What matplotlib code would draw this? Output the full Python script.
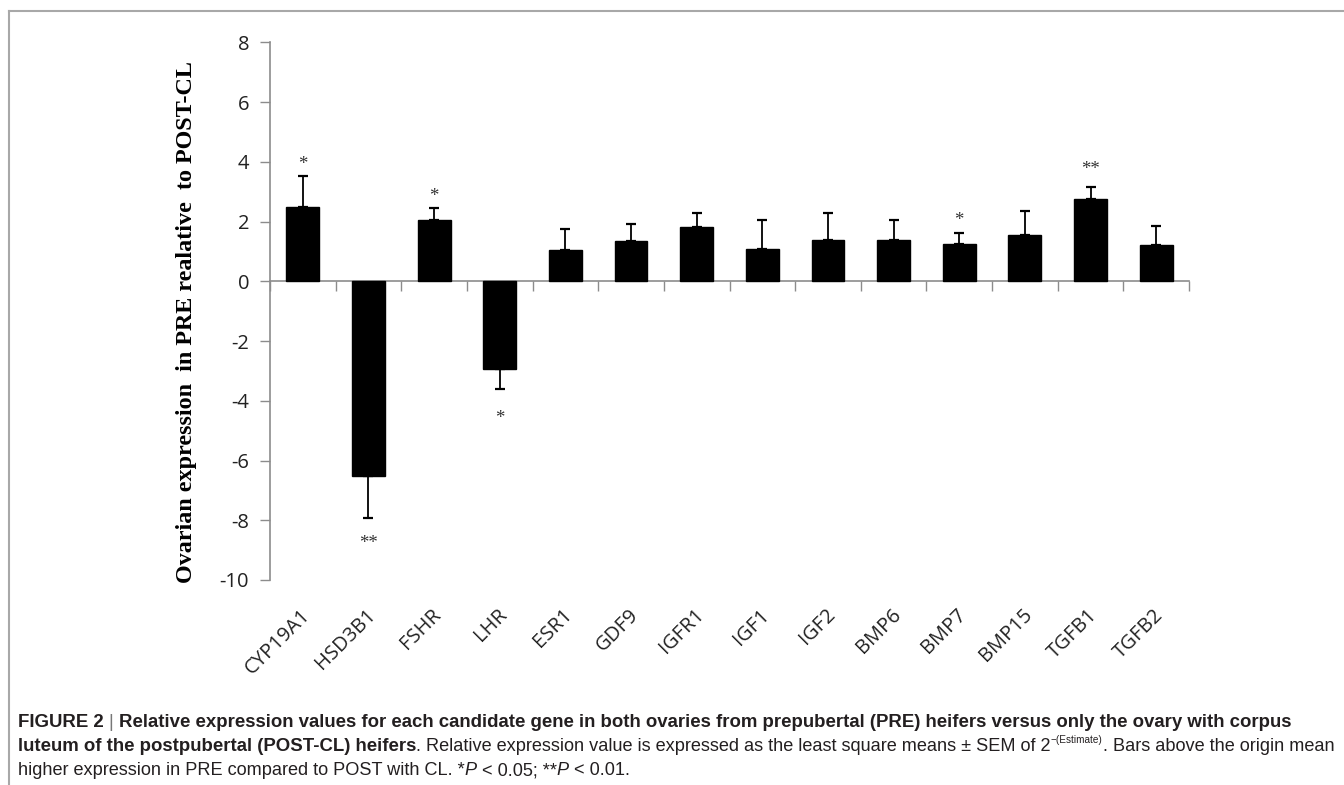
import matplotlib
matplotlib.use("Agg")
import matplotlib.pyplot as plt
import numpy as np
from matplotlib.transforms import IdentityTransform
from matplotlib.lines import Line2D

# ---------------- data ----------------
genes = ["CYP19A1", "HSD3B1", "FSHR", "LHR", "ESR1", "GDF9", "IGFR1",
         "IGF1", "IGF2", "BMP6", "BMP7", "BMP15", "TGFB1", "TGFB2"]
means = [2.48, -6.52, 2.04, -2.93, 1.05, 1.34, 1.81,
         1.08, 1.38, 1.38, 1.26, 1.55, 2.77, 1.23]
sems = [1.05, 1.41, 0.43, 0.69, 0.72, 0.57, 0.48,
        0.99, 0.91, 0.69, 0.36, 0.81, 0.39, 0.61]
signif = ["*", "**", "*", "*", "", "", "", "", "", "", "*", "", "**", ""]
# vertical position (data units) of each significance mark
star_y = [4.03, -8.66, 2.96, -4.46, None, None, None,
          None, None, None, 2.18, None, 3.87, None]
yticks = [-10, -8, -6, -4, -2, 0, 2, 4, 6, 8]
ylabel = "Ovarian expression  in PRE realative  to POST-CL"

W, H = 1344, 785
fig = plt.figure(figsize=(W / 100, H / 100), dpi=100)
fig.patch.set_facecolor("white")

# figure frame lines (top and left)
fig.add_artist(Line2D([9 / W, 1], [1 - 11 / H, 1 - 11 / H], color="#a8a8a8", lw=1.5))
fig.add_artist(Line2D([9 / W, 9 / W], [0, 1 - 11 / H], color="#a8a8a8", lw=1.5))

ax = fig.add_axes([270 / W, 1 - 580 / H, 919 / W, 537.5 / H])
x = np.arange(len(genes))
means_a = np.array(means)
sems_a = np.array(sems)
lower = np.where(means_a < 0, sems_a, 0)
upper = np.where(means_a >= 0, sems_a, 0)

ax.bar(x, means_a, width=0.5, color="black", edgecolor="black", zorder=3)
ax.errorbar(x, means_a, yerr=[lower, upper], fmt="none", ecolor="black",
            elinewidth=1.3, capsize=3.6, capthick=1.6, zorder=2)

# significance stars
for i, (sg, sy) in enumerate(zip(signif, star_y)):
    if not sg:
        continue
    ax.annotate(sg, xy=(i, sy), xytext=(0, -6), textcoords="offset points",
                ha="center", va="baseline", fontsize=13.5, color="#333333",
                family="Liberation Serif")

ax.set_xlim(-0.5, len(genes) - 0.5)
ax.set_ylim(min(yticks), max(yticks))
ax.set_yticks(yticks)
ax.set_yticklabels([str(v) for v in yticks], fontsize=14.5, family="Open Sans",
                   color="#222222")
ax.tick_params(axis="y", direction="out", length=7, width=1, color="#8c8c8c", pad=8)

for sp in ["top", "right"]:
    ax.spines[sp].set_visible(False)
ax.spines["left"].set_color("#8c8c8c")
ax.spines["left"].set_linewidth(1.2)
ax.spines["bottom"].set_position(("data", 0))
ax.spines["bottom"].set_color("#8c8c8c")
ax.spines["bottom"].set_linewidth(1.2)
ax.set_xticks([])
ax.set_xticks(np.arange(-0.5, len(genes), 1.0), minor=True)
ax.tick_params(axis="x", which="minor", direction="out", length=7, width=1,
               color="#8c8c8c", labelbottom=False)

for i, g in enumerate(genes):
    ax.annotate(g, xy=(i, 0), xycoords=("data", "axes fraction"),
                xytext=(3, -23), textcoords="offset points", rotation=45,
                ha="right", va="center", rotation_mode="anchor",
                fontsize=14.5, family="Open Sans", color="#222222")

fig.text(187 / W, 1 - 322 / H, ylabel, rotation=90, ha="center", va="center",
         fontsize=17.4, family="Liberation Serif", fontweight="bold", color="black")

# ---------------- caption ----------------
renderer = fig.canvas.get_renderer()
cap_color = "#231f20"
bold_size = 13.4
norm_size = 13.1


def runs(x0, y0, parts):
    xx = x0
    for txt, style in parts:
        kw = dict(fontsize=norm_size, family="Liberation Sans", color=cap_color,
                  va="baseline", ha="left", transform=IdentityTransform())
        dy = 0
        if style == "b":
            kw["fontweight"] = "bold"
            kw["fontsize"] = bold_size
        elif style == "i":
            kw["style"] = "italic"
        elif style == "sup":
            kw["fontsize"] = norm_size * 0.55
            dy = 8
        elif style == "bar":
            kw["color"] = "#777777"
            kw["fontsize"] = bold_size
        t = fig.text(xx, y0 + dy, txt, **kw)
        bb = t.get_window_extent(renderer)
        xx = bb.x1


line1 = [("FIGURE 2 ", "b"), ("| ", "bar"),
         ("Relative expression values for each candidate gene in both ovaries from prepubertal (PRE) heifers versus only the ovary with corpus", "b")]
line2 = [("luteum of the postpubertal (POST-CL) heifers", "b"),
         (". Relative expression value is expressed as the least square means \u00b1 SEM of 2", "n"),
         ("\u2212(Estimate)", "sup"),
         (". Bars above the origin mean", "n")]
line3 = [("higher expression in PRE compared to POST with CL. *", "n"), ("P", "i"),
         (" < 0.05; **", "n"), ("P", "i"), (" < 0.01.", "n")]

runs(18, H - 727, line1)
runs(18, H - 751, line2)
runs(18, H - 775, line3)

fig.savefig("out.png", dpi=100, facecolor="white")
